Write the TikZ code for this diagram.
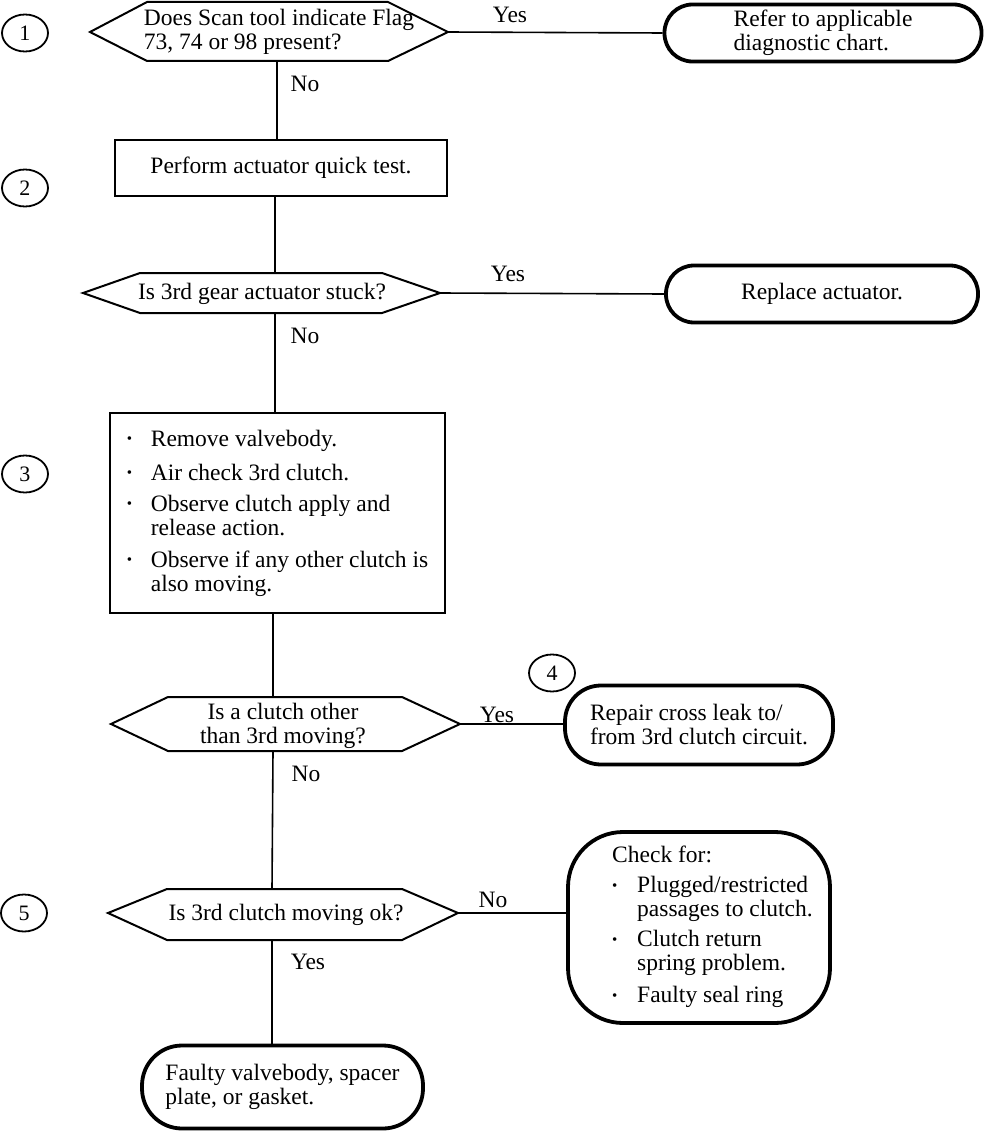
\documentclass[tikz,border=0pt]{standalone}
\usepackage{fontspec}
\setmainfont{Liberation Serif}
\usetikzlibrary{shapes.geometric}
\newcommand{\bl}{\makebox[24pt][l]{\raisebox{2.5pt}{\fontsize{15}{15}\selectfont\textbullet}}}
\newcommand{\ind}{\hspace*{24pt}}
\begin{document}
\begin{tikzpicture}[x=1pt,y=-1pt,
  every node/.style={font=\fontsize{23.5}{24}\selectfont, inner sep=0pt},
  num/.style={draw, ellipse, line width=1.8pt, minimum width=46pt, minimum height=37pt, font=\fontsize{22}{22}\selectfont},
  hexline/.style={line width=2pt, line join=miter},
  conn/.style={line width=1.6pt},
  term/.style={draw, line width=3.8pt},
  proc/.style={draw, line width=1.6pt},
  lbl/.style={inner sep=1pt}]
\useasboundingbox (0,0) rectangle (992,1140);

% step numbers
\node[num] (n1) at (25,33) {1};
\node[num] (n2) at (25,188) {2};
\node[num] (n3) at (25,474) {3};
\node[num] (n4) at (552,673) {4};
\node[num] (n5) at (24,913) {5};

% decision 1
\draw[hexline] (90,32) -- (147,2) -- (388,2) -- (448,32) -- (388,61) -- (147,61) -- cycle;
\coordinate (h1R) at (448,32);
\coordinate (h1B) at (277,61);
\node[align=left] (h1) at (279,32) {Does Scan tool indicate Flag\\73, 74 or 98 present?};

\node[term, rounded corners=28pt, minimum width=317pt, minimum height=57pt, align=left] (o1) at (823,33)
  {Refer to applicable\\diagnostic chart.};
\draw[conn] (h1R) -- (o1.west);
\node[lbl] (y1) at (510,15) {Yes};

% process 2
\node[proc, minimum width=332pt, minimum height=56pt] (b2) at (281,168) {Perform actuator quick test.};
\draw[conn] (h1B) -- (h1B |- b2.north);
\node[lbl] (no1) at (305,84) {No};

% decision 2
\draw[hexline] (83,293) -- (140,273) -- (382,273) -- (440,293) -- (382,313) -- (140,313) -- cycle;
\coordinate (h2R) at (440,293);
\coordinate (h2T) at (275,273);
\coordinate (h2B) at (275,313);
\node (h2) at (262,294) {Is 3rd gear actuator stuck?};
\draw[conn] (h2T |- b2.south) -- (h2T);

\node[term, rounded corners=28pt, minimum width=312pt, minimum height=57pt] (o2) at (822,294) {Replace actuator.};
\draw[conn] (h2R) -- (o2.west);
\node[lbl] (y2) at (508,274) {Yes};
\node[lbl] (no2) at (305,336) {No};

% process 3
\node[proc, minimum width=335pt, minimum height=200pt, align=left] (b3) at (277.5,513)
  {\bl Remove valvebody.\\[10pt]
   \bl Air check 3rd clutch.\\[7pt]
   \bl Observe clutch apply and\\
   \ind release action.\\[8pt]
   \bl Observe if any other clutch is\\
   \ind also moving.};
\draw[conn] (h2B) -- (h2B |- b3.north);

% decision 3
\draw[hexline] (111,724) -- (168,697) -- (402,697) -- (460,724) -- (402,751) -- (168,751) -- cycle;
\coordinate (h3R) at (460,724);
\coordinate (h3T) at (273,697);
\coordinate (h3B) at (273,751);
\node[align=center] (h3) at (283,726) {Is a clutch other\\than 3rd moving?};
\draw[conn] (h3T |- b3.south) -- (h3T);

\node[term, rounded corners=36pt, minimum width=268pt, minimum height=79pt, align=left] (o4) at (699,725)
  {Repair cross leak to/\\from 3rd clutch circuit.};
\draw[conn] (h3R) -- (h3R -| o4.west);
\node[lbl, anchor=south] (y3) at (497,724) {Yes};
\node[lbl] (no3) at (306,774) {No};

% decision 4
\draw[hexline] (108,913) -- (167,889) -- (402,889) -- (458,913) -- (402,940) -- (167,940) -- cycle;
\coordinate (h4R) at (458,913);
\coordinate (h4T) at (272,889);
\coordinate (h4B) at (272,940);
\node (h4) at (286,915) {Is 3rd clutch moving ok?};
\draw[conn] (h3B) -- (h4T);

\node[term, rounded corners=55pt, minimum width=262pt, minimum height=191pt] (chk) at (699,927.5) {};
\node[align=left, anchor=north west] (chkt) at (612,846)
  {Check for:\\[6pt]
   \makebox[25pt][l]{\raisebox{2.5pt}{\fontsize{15}{15}\selectfont\textbullet}}Plugged/restricted\\
   \hspace*{25pt}passages to clutch.\\[6pt]
   \makebox[25pt][l]{\raisebox{2.5pt}{\fontsize{15}{15}\selectfont\textbullet}}Clutch return\\
   \hspace*{25pt}spring problem.\\[8pt]
   \makebox[25pt][l]{\raisebox{2.5pt}{\fontsize{15}{15}\selectfont\textbullet}}Faulty seal ring};
\draw[conn] (h4R) -- (h4R -| chk.west);
\node[lbl] (no4) at (493,900) {No};
\node[lbl] (y4) at (308,962) {Yes};

\node[term, rounded corners=40pt, minimum width=281pt, minimum height=83pt, align=left] (o5) at (282.5,1087)
  {Faulty valvebody, spacer\\plate, or gasket.};
\draw[conn] (h4B) -- (h4B |- o5.north);
\end{tikzpicture}
\end{document}
